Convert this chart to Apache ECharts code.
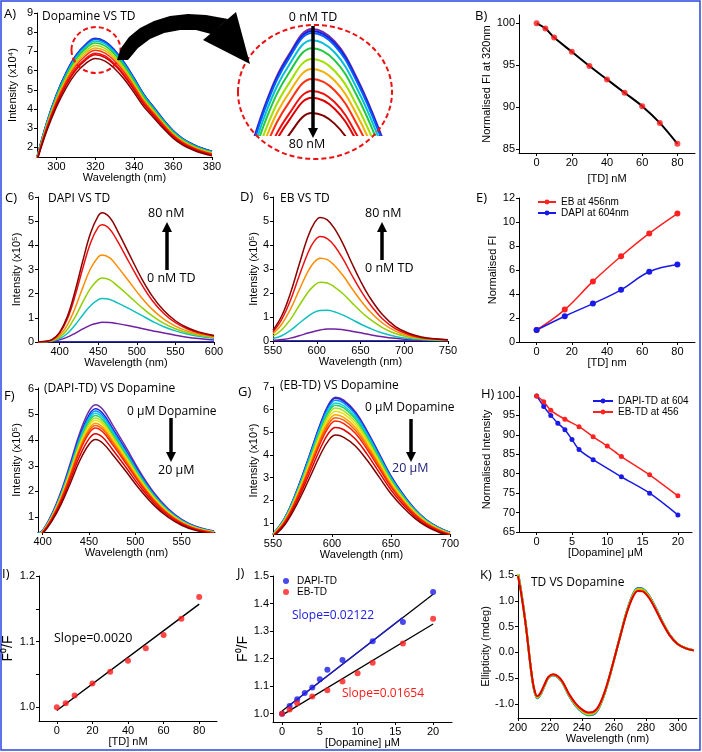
<!DOCTYPE html>
<html><head><meta charset="utf-8">
<script src="https://cdn.jsdelivr.net/npm/echarts@6/dist/echarts.min.js"></script>
<style>html,body{margin:0;padding:0;background:#fff}#c{width:702px;height:752px}</style>
</head><body><div id="c"></div>
<script>
// ---------- DATA ----------
// A) Dopamine VS TD (normalised profile of spectrum and peak heights, x10^4)
const wlA = [290,295,300,305,310,315,320,325,330,335,340,345,350,355,360,365,370,375,380];
const profA = [0.196,0.43,0.62,0.77,0.885,0.96,1.0,0.98,0.92,0.835,0.73,0.62,0.535,0.45,0.375,0.32,0.283,0.255,0.235];
const peaksA = [7.68,7.655,7.63,7.54,7.44,7.305,7.18,7.055,6.905,6.82,6.63];
const colorsA = ['#7030a0','#1a1ae0','#0060ff','#00c0d8','#20c840','#a0e000','#f0b000','#ff3010','#f01010','#dd0000','#800000'];
// B)
const tdB = [0,5,10,20,30,40,50,60,70,80];
const fiB = [100,99.4,98.3,96.6,94.9,93.3,91.7,90.1,88.1,85.6];
// C) DAPI VS TD (x10^5)
const wlC = [372,380,390,400,410,420,430,440,450,455,465,475,490,505,520,535,550,565,580,600];
const dapiBlue   = [0.01,0.01,0.01,0.01,0.01,0.01,0.01,0.01,0.01,0.01,0.01,0.01,0.01,0.01,0.01,0.01,0.01,0.01,0.01,0.01];
const dapiPurple = [0,0.01,0.03,0.09,0.2,0.36,0.54,0.7,0.79,0.82,0.81,0.76,0.67,0.57,0.47,0.37,0.28,0.2,0.14,0.08];
const dapiCyan   = [0,0.01,0.04,0.14,0.35,0.7,1.12,1.5,1.75,1.8,1.76,1.62,1.38,1.12,0.86,0.63,0.46,0.33,0.24,0.16];
const dapiYG     = [0,0.01,0.05,0.2,0.52,1.03,1.65,2.22,2.58,2.65,2.57,2.32,1.9,1.47,1.08,0.77,0.55,0.39,0.28,0.19];
const dapiOrange = [0,0.01,0.07,0.27,0.7,1.4,2.25,3.03,3.52,3.6,3.48,3.12,2.5,1.88,1.35,0.95,0.66,0.46,0.33,0.22];
const dapiRed    = [0,0.02,0.09,0.36,0.95,1.9,3.05,4.1,4.75,4.85,4.67,4.17,3.3,2.45,1.72,1.18,0.8,0.55,0.38,0.25];
const dapiDark   = [0,0.02,0.1,0.4,1.05,2.1,3.35,4.5,5.22,5.35,5.15,4.6,3.65,2.7,1.9,1.3,0.88,0.6,0.42,0.27];
// D) EB VS TD (x10^5)
const wlD = [550,560,570,580,590,597,604,612,620,630,640,650,660,675,690,705,720,735,750];
const ebBlue   = [0.01,0.01,0.01,0.01,0.01,0.01,0.01,0.01,0.01,0.01,0.01,0.01,0.01,0.01,0.01,0.01,0.01,0.01,0.01];
const ebPurple = [0.02,0.06,0.12,0.22,0.33,0.4,0.46,0.5,0.5,0.47,0.41,0.34,0.27,0.18,0.11,0.06,0.03,0.02,0.01];
const ebCyan   = [0.1,0.22,0.44,0.74,1.03,1.19,1.27,1.28,1.22,1.08,0.9,0.71,0.54,0.33,0.19,0.1,0.06,0.03,0.02];
const ebYG     = [0.2,0.47,0.9,1.48,2.03,2.31,2.45,2.42,2.26,1.97,1.6,1.24,0.93,0.56,0.31,0.17,0.09,0.05,0.03];
const ebOrange = [0.3,0.7,1.33,2.13,2.9,3.28,3.45,3.39,3.16,2.73,2.2,1.7,1.26,0.75,0.41,0.22,0.12,0.07,0.04];
const ebRed    = [0.38,0.9,1.7,2.72,3.68,4.15,4.35,4.27,3.98,3.42,2.75,2.12,1.57,0.93,0.51,0.27,0.14,0.08,0.04];
const ebDark   = [0.45,1.05,2.0,3.2,4.35,4.9,5.15,5.05,4.7,4.05,3.25,2.5,1.85,1.1,0.6,0.32,0.17,0.09,0.05];
// E)
const tdE = [0,16,32,48,64,80];
const ebE = [1,2.7,5.05,7.15,9.05,10.7];
const dapiE = [1,2.15,3.2,4.35,5.85,6.45];
// F) (DAPI-TD) VS Dopamine (x10^5)
const wlF = [395,400,410,420,430,440,450,457,465,475,490,505,520,535,550,565,585];
const profF = [0.07,0.09,0.21,0.375,0.58,0.795,0.953,1.0,0.965,0.86,0.69,0.515,0.365,0.25,0.17,0.12,0.085];
const peaksF = [5.38,5.22,5.13,5.05,4.96,4.86,4.77,4.66,4.57,4.47,4.25,4.02];
const colorsFG = ['#7030a0','#2020e0','#0090ff','#00d0e0','#20d060','#a0e020','#f0e000','#ffa000','#ff6000','#ff2000','#e00000','#800000'];
// G) (EB-TD) VS Dopamine (x10^4)
const wlG = [550,560,570,580,590,597,603,610,620,630,640,650,660,670,680,690,700];
const profG = [0.08,0.19,0.37,0.59,0.82,0.95,1.0,0.98,0.9,0.77,0.62,0.47,0.35,0.25,0.175,0.125,0.09];
const peaksG = [6.55,6.5,6.42,6.3,6.2,6.07,5.93,5.78,5.65,5.5,5.22,4.88];
// H)
const dopH1 = [0,1,2,3,4,5,6,8,12,16,20];
const dapiH = [100,97.3,95,93,91.3,88.8,86.2,83.6,79.2,75,69.4];
const dopH2 = [0,1,2,4,6,8,10,12,16,20];
const ebH = [100,98.5,96.3,94,92.1,89.5,87.1,84.4,79.7,74.3];
// I)
const tdI = [0,5,10,20,30,40,50,60,70,80];
const f0fI = [1.0,1.006,1.018,1.036,1.054,1.071,1.09,1.11,1.135,1.168];
const fitI = [[0,0.995],[80,1.157]];
// J)
const dopJ1 = [0,1,2,3,4,5,6,8,12,16,20];
const dapiJ = [1.0,1.028,1.053,1.075,1.095,1.125,1.16,1.195,1.263,1.333,1.442];
const dopJ2 = [0,1,2,4,6,8,10,12,16,20];
const ebJ = [1.0,1.015,1.038,1.063,1.085,1.117,1.147,1.185,1.255,1.345];
const fitJ1 = [[0,1.01],[20,1.434]];
const fitJ1blue = [[1,1.031],[16,1.35]];
const fitJ2 = [[0,0.995],[20,1.326]];
// K) TD VS Dopamine CD
const wlK = [200,202,205,208,210,212,214,217,219,222,225,228,232,236,240,244,247,250,253,256,260,264,268,272,275,278,282,286,290,295,300,305,310];
const cdK = [1.5,1.15,0.5,-0.3,-0.7,-0.86,-0.8,-0.6,-0.48,-0.43,-0.47,-0.58,-0.82,-1.0,-1.12,-1.18,-1.17,-1.08,-0.88,-0.6,-0.15,0.32,0.77,1.1,1.21,1.2,1.07,0.85,0.6,0.33,0.16,0.08,0.04];
const scaleK = [1.03,1.025,1.02,1.01,1.0,0.985];
const colorsK = ['#2020e0','#00c0e0','#20d020','#e0e000','#ff9000','#e00000'];

// ---------- BUILD ----------
const FONT = '"Liberation Sans", Arial, sans-serif';
const TFONT = '"Open Sans", "Noto Sans", sans-serif';
const grids = [], xAxes = [], yAxes = [], series = [];
function axis(o, i) {
  return {
    type: 'value', gridIndex: i, min: o.min, max: o.max, show: !o.hidden,
    name: o.name || '', nameLocation: 'middle', nameGap: o.gap || 15,
    nameTextStyle: {fontFamily: FONT, fontSize: o.nfs || 11, color: '#000'},
    axisLine: {show: true, onZero: false, lineStyle: {color: '#000', width: 1}},
    axisTick: {show: true, length: 3, customValues: o.ticks2 || o.ticks, lineStyle: {color: '#000'}},
    axisLabel: {show: true, customValues: o.ticks, fontFamily: FONT, fontSize: 11, color: '#000', margin: 4,
      formatter: o.dec ? (v => Number(v).toFixed(o.dec)) : (v => String(v))},
    splitLine: {show: false}
  };
}
function panel(g, xa, ya) {
  const i = grids.length;
  grids.push(Object.assign({containLabel: false}, g));
  xAxes.push(axis(xa, i));
  yAxes.push(axis(ya, i));
  return i;
}
function line(i, xs, ys, color, extra) {
  return Object.assign({
    type: 'line', xAxisIndex: i, yAxisIndex: i, data: xs.map((x, k) => [x, ys[k]]),
    showSymbol: false, smooth: 0.4, clip: true, silent: true, animation: false,
    lineStyle: {color: color, width: 1.5}, itemStyle: {color: color}
  }, extra || {});
}
function pairLine(i, pts, color, w) {
  return {type: 'line', xAxisIndex: i, yAxisIndex: i, data: pts, showSymbol: false, silent: true,
    animation: false, lineStyle: {color: color, width: w || 1.5}};
}
function scatter(i, xs, ys, color, name) {
  return {type: 'scatter', name: name, xAxisIndex: i, yAxisIndex: i, data: xs.map((x, k) => [x, ys[k]]),
    symbolSize: 6, itemStyle: {color: color}, silent: true, animation: false, z: 5};
}

// A
const gA = panel({left: 37, top: 13, width: 175, height: 144},
  {min: 290, max: 380, ticks: [300,320,340,360,380], name: 'Wavelength (nm)', gap: 15},
  {min: 1.5, max: 9, ticks: [2,3,4,5,6,7,8,9], name: 'Intensity (x10\u2074)', gap: 19});
peaksA.forEach((p, k) => series.push(line(gA, wlA, profA.map(v => v * p), colorsA[k])));
// A inset (magnified view of the peak)
const gAi = panel({left: 237, top: 21, width: 155, height: 114},
  {min: 303.3, max: 337.8, hidden: true}, {min: 6.355, max: 7.78, hidden: true});
peaksA.forEach((p, k) => series.push(line(gAi, wlA, profA.map(v => v * p), colorsA[k], {lineStyle: {color: colorsA[k], width: 2}})));

// B
const gB = panel({left: 519, top: 15, width: 176, height: 138},
  {min: -10, max: 90, ticks: [0,20,40,60,80], name: '[TD] nM', gap: 20},
  {min: 84.5, max: 101, ticks: [85,90,95,100], name: 'Normalised FI at 320nm', gap: 22});
series.push(line(gB, tdB, fiB, '#000', {smooth: 0.3, lineStyle: {color: '#000', width: 2}}));
series.push(scatter(gB, tdB, fiB, '#ff1a1a'));

// C
const gC = panel({left: 38, top: 197, width: 176, height: 145},
  {min: 372, max: 600, ticks: [400,450,500,550,600], name: 'Wavelength (nm)', gap: 15},
  {min: 0, max: 6, ticks: [0,1,2,3,4,5,6], name: 'Intensity (x10\u2075)', gap: 16});
[[dapiBlue,'#3030c0'],[dapiPurple,'#7020a0'],[dapiCyan,'#10c0c0'],[dapiYG,'#90d000'],[dapiOrange,'#ff8c00'],[dapiRed,'#ee1010'],[dapiDark,'#8b0000']]
  .forEach(([d, c]) => series.push(line(gC, wlC, d, c)));

// D
const gD = panel({left: 273, top: 197, width: 175, height: 144},
  {min: 550, max: 750, ticks: [550,600,650,700,750], name: 'Wavelength (nm)', gap: 15},
  {min: 0, max: 6, ticks: [0,1,2,3,4,5,6], name: 'Intensity (x10\u2075)', gap: 10});
[[ebBlue,'#3030c0'],[ebPurple,'#7020a0'],[ebCyan,'#10c0c0'],[ebYG,'#90d000'],[ebOrange,'#ff8c00'],[ebRed,'#ee1010'],[ebDark,'#8b0000']]
  .forEach(([d, c]) => series.push(line(gD, wlD, d, c)));

// E
const gE = panel({left: 519, top: 198, width: 176, height: 144},
  {min: -10, max: 90, ticks: [0,20,40,60,80], name: '[TD] nm', gap: 15},
  {min: 0, max: 12, ticks: [0,2,4,6,8,10,12], name: 'Normalised FI', gap: 19});
series.push(line(gE, tdE, ebE, '#ff2020', {name: 'EB at 456nm', showSymbol: true, symbol: 'circle', symbolSize: 6}));
series.push(line(gE, tdE, dapiE, '#1a1ae6', {name: 'DAPI at 604nm', showSymbol: true, symbol: 'circle', symbolSize: 6}));

// F
const gF = panel({left: 38, top: 388, width: 177, height: 144},
  {min: 395, max: 586, ticks: [400,450,500,550], name: 'Wavelength (nm)', gap: 15},
  {min: 0.42, max: 6.03, ticks: [1,2,3,4,5,6], name: 'Intensity (x10\u2075)', gap: 16});
peaksF.forEach((p, k) => series.push(line(gF, wlF, profF.map(v => v * p), colorsFG[k])));

// G
const gG = panel({left: 273, top: 387, width: 177, height: 147},
  {min: 550, max: 700, ticks: [550,600,650,700], name: 'Wavelength (nm)', gap: 15},
  {min: 0.52, max: 7, ticks: [1,2,3,4,5,6,7], name: 'Intensity (x10\u2074)', gap: 11});
peaksG.forEach((p, k) => series.push(line(gG, wlG, profG.map(v => v * p), colorsFG[k])));

// H
const gH = panel({left: 519, top: 387, width: 173, height: 145},
  {min: -2.5, max: 22, ticks: [0,5,10,15,20], name: '[Dopamine] \u03bcM', gap: 15},
  {min: 65, max: 102.3, ticks: [65,70,75,80,85,90,95,100], name: 'Normalised Intensity', gap: 26});
series.push(line(gH, dopH1, dapiH, '#1a1ae6', {name: 'DAPI-TD at 604', showSymbol: true, symbol: 'circle', symbolSize: 5, smooth: 0.3}));
series.push(line(gH, dopH2, ebH, '#ff2020', {name: 'EB-TD at 456', showSymbol: true, symbol: 'circle', symbolSize: 5, smooth: 0.3}));

// I
const gI = panel({left: 39, top: 576, width: 178, height: 145},
  {min: -10, max: 90, ticks: [0,20,40,60,80], name: '[TD] nM', gap: 15},
  {min: 0.979, max: 1.2, ticks: [1.0,1.1,1.2], ticks2: [1.0,1.05,1.1,1.15,1.2], dec: 1, name: 'F\u2070/F', gap: 24, nfs: 14});
series.push(pairLine(gI, fitI, '#000', 1.5));
series.push(scatter(gI, tdI, f0fI, '#ff1a1a'));

// J
const gJ = panel({left: 273, top: 576, width: 179, height: 146},
  {min: -1.2, max: 22.5, ticks: [0,5,10,15,20], name: '[Dopamine] \u03bcM', gap: 15},
  {min: 0.97, max: 1.5, ticks: [1.0,1.1,1.2,1.3,1.4,1.5], dec: 1, name: 'F\u2070/F', gap: 22, nfs: 14});
series.push(pairLine(gJ, fitJ1, '#000', 1.3));
series.push(pairLine(gJ, fitJ1blue, '#2020d0', 1.3));
series.push(pairLine(gJ, fitJ2, '#000', 1.3));
series.push(scatter(gJ, dopJ1, dapiJ, '#1a1ae6', 'DAPI-TD'));
series.push(scatter(gJ, dopJ2, ebJ, '#ff1a1a', 'EB-TD'));

// K
const gK = panel({left: 518, top: 575, width: 179, height: 143},
  {min: 200, max: 312, ticks: [200,220,240,260,280,300], name: 'Wavelength (nm)', gap: 15},
  {min: -1.27, max: 1.5, ticks: [-1.0,-0.5,0,0.5,1.0,1.5], dec: 1, name: 'Ellipticity (mdeg)', gap: 25});
scaleK.forEach((s, k) => series.push(line(gK, wlK, cdK.map(v => v * s), colorsK[k], {smooth: 0.3, lineStyle: {color: colorsK[k], width: 2}})));

// ---------- GRAPHICS ----------
function txt(x, y, s, opt) {
  opt = opt || {};
  return {type: 'text', x: x, y: y, z: 100, silent: true, style: {text: s, fill: opt.color || '#000',
    font: (opt.size || 13) + 'px ' + (opt.font || TFONT), align: opt.align || 'left', verticalAlign: 'middle'}};
}
function arrow(x, y1, y2) { // vertical arrow from y1 to tip y2
  const dir = y2 < y1 ? -1 : 1;
  return {type: 'group', silent: true, children: [
    {type: 'line', z: 100, shape: {x1: x, y1: y1, x2: x, y2: y2 - dir * 9}, style: {stroke: '#000', lineWidth: 3.5}},
    {type: 'polygon', z: 100, shape: {points: [[x - 5, y2 - dir * 10], [x + 5, y2 - dir * 10], [x, y2]]}, style: {fill: '#000'}}
  ]};
}
const T = {size: 12}, N = {size: 12.5};
const graphics = [
  {type: 'rect', shape: {x: 1, y: 1, width: 699, height: 749}, style: {fill: 'none', stroke: '#2a45e0', lineWidth: 1.5}, silent: true},
  txt(4, 14, 'A)'), txt(475, 16, 'B)'), txt(5, 198, 'C)'), txt(240, 197, 'D)'), txt(476, 198, 'E)'),
  txt(4, 396, 'F)'), txt(238, 392, 'G)'), txt(481, 394, 'H)'), txt(2, 574, 'I)'), txt(237, 573, 'J)'), txt(480, 575, 'K)'),
  txt(42, 17, 'Dopamine VS TD', T), txt(48, 199, 'DAPI VS TD', T), txt(280, 199, 'EB VS TD', T),
  txt(44, 389, '(DAPI-TD) VS Dopamine', T), txt(280, 386, '(EB-TD) VS Dopamine', T), txt(531, 583, 'TD VS Dopamine', T),
  // A magnifier
  {type: 'ellipse', shape: {cx: 96, cy: 50, rx: 24.5, ry: 23}, style: {fill: 'none', stroke: '#ee1111', lineWidth: 2, lineDash: [5, 3]}, z: 90, silent: true},
  {type: 'ellipse', shape: {cx: 315, cy: 92, rx: 77, ry: 67}, style: {fill: 'none', stroke: '#ee1111', lineWidth: 2, lineDash: [5, 3]}, z: 90, silent: true},
  {type: 'polygon', z: 95, silent: true, shape: {points: [[117,60],[121,48],[129,37],[140,28],[154,21],[170,16],[188,14],[206,15],[228,19],[211,34],[196,30],[180,30],[164,33],[150,39],[138,48],[128,60]]}, style: {fill: '#000'}},
  {type: 'polygon', z: 95, silent: true, shape: {points: [[203,40],[236,12],[250,64]]}, style: {fill: '#000'}},
  arrow(313, 26, 138), txt(313, 17, '0 nM TD', {align: 'center', size: 12.5}), txt(307, 144, '80 nM', {align: 'center', size: 12.5}),
  // C
  txt(148, 213, '80 nM', N), arrow(167, 270, 222), txt(147, 278, '0 nM TD', N),
  // D
  txt(365, 213, '80 nM', N), arrow(382, 260, 222), txt(365, 268, '0 nM TD', N),
  // F
  txt(127, 412, '0 \u03bcM Dopamine', T), arrow(171, 418, 462), txt(158, 470, '20 \u03bcM', N),
  // G
  txt(365, 408, '0 \u03bcM Dopamine', T), arrow(411, 419, 462), txt(392, 468, '20 \u03bcM', {size: 12.5, color: '#22227a'}),
  // I, J
  txt(54, 638, 'Slope=0.0020', {size: 12.5}),
  txt(292, 616, 'Slope=0.02122', {size: 12, color: '#2020e0'}),
  txt(342, 694, 'Slope=0.01654', {size: 12, color: '#ff1a1a'})
];

const legendBase = {orient: 'vertical', itemGap: 1, itemWidth: 20, itemHeight: 6,
  textStyle: {fontFamily: FONT, fontSize: 10, color: '#000'}, selectedMode: false, padding: 0};
const option = {
  animation: false,
  backgroundColor: '#fff',
  grid: grids, xAxis: xAxes, yAxis: yAxes, series: series,
  legend: [
    Object.assign({}, legendBase, {left: 537, top: 197, itemWidth: 18, data: ['EB at 456nm', 'DAPI at 604nm']}),
    Object.assign({}, legendBase, {left: 592, top: 396, data: ['DAPI-TD at 604', 'EB-TD at 456']}),
    Object.assign({}, legendBase, {left: 283, top: 576, itemWidth: 12, data: ['DAPI-TD', 'EB-TD']})
  ],
  graphic: graphics
};
const chart = echarts.init(document.getElementById('c'), null, {renderer: 'canvas'});
chart.setOption(option);
</script></body></html>
